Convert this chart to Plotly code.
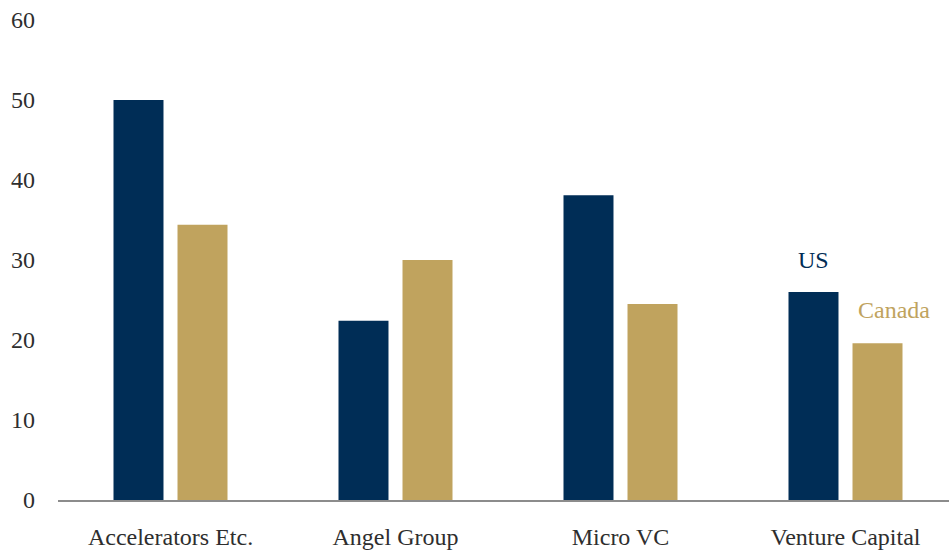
import plotly.graph_objects as go

categories = ["Accelerators Etc.", "Angel Group", "Micro VC", "Venture Capital"]
us_values = [50.0, 22.4, 38.1, 26.0]
canada_values = [34.4, 30.0, 24.5, 19.6]
y_ticks = [0, 10, 20, 30, 40, 50, 60]

NAVY = "#002D56"
GOLD = "#C0A35E"
TEXT = "#2e2e2e"
FONT = "'Liberation Serif', 'Times New Roman', serif"

fig = go.Figure()
fig.add_trace(go.Bar(x=categories, y=us_values, name="US", marker=dict(color=NAVY, line=dict(width=0))))
fig.add_trace(go.Bar(x=categories, y=canada_values, name="Canada", marker=dict(color=GOLD, line=dict(width=0))))

# series labels sitting above the last pair of bars
last = categories[-1]
fig.add_annotation(x=last, y=us_values[-1], text="US", showarrow=False,
                   xshift=-32, yshift=32, font=dict(family=FONT, size=24, color=NAVY))
fig.add_annotation(x=last, y=canada_values[-1], text="Canada", showarrow=False,
                   xshift=48, yshift=33, font=dict(family=FONT, size=24, color=GOLD))

fig.update_layout(
    width=949, height=554,
    margin=dict(l=58, r=0, t=20, b=54),
    paper_bgcolor="white", plot_bgcolor="white",
    barmode="group", bargap=0.431, bargroupgap=0.219,
    showlegend=False,
    font=dict(family=FONT, size=24, color=TEXT),
)
fig.update_xaxes(
    range=[-0.5, 3.46], showgrid=False, showline=True, linecolor="#8c8c8c", linewidth=2,
    ticks="", tickfont=dict(family=FONT, size=24, color=TEXT), ticklabelstandoff=14,
)
fig.update_yaxes(
    range=[0, 60], tickvals=y_ticks, showgrid=False, zeroline=False, showline=False,
    ticks="", tickfont=dict(family=FONT, size=24, color=TEXT), ticklabelstandoff=22,
)

fig.write_html("out.html")
